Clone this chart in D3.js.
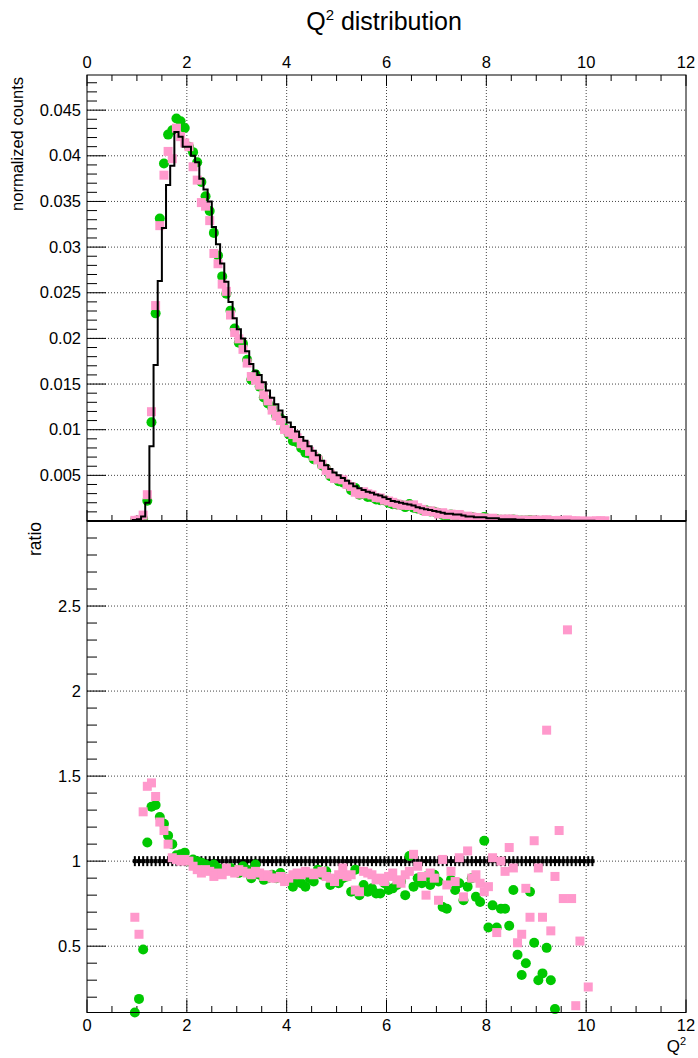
<!DOCTYPE html>
<html><head><meta charset="utf-8">
<script src="https://cdn.jsdelivr.net/npm/d3@7"></script>
<style>
body{margin:0;background:#fff}
svg{display:block}
text{font-family:"Liberation Sans",Arial,Helvetica,sans-serif;fill:#000}
</style>
</head><body>
<svg id="chart" width="698" height="1058"></svg>
<script>
// Binning: 144 bins of width 1/12 on [0,12]; arrays below start at bin 11.
const binWidth = 1 / 12;
const firstBin = 11;

// Reference histogram (normalized counts), bins 11..121
const histCounts = [
  0.0001, 0.0002, 0.0005, 0.0020, 0.0082, 0.0171, 0.0263, 0.0321, 0.0368, 0.0389,
  0.0426, 0.0421, 0.0410, 0.0410, 0.0400, 0.0393, 0.0375, 0.0363, 0.0350, 0.0322,
  0.0303, 0.0282, 0.0262, 0.0240, 0.0222, 0.0210, 0.0200, 0.0186, 0.0172, 0.0164,
  0.0160, 0.0152, 0.0143, 0.0135, 0.0128, 0.0121, 0.0114, 0.0108, 0.0103, 0.0098,
  0.0092, 0.0088, 0.0082, 0.0077, 0.0072, 0.0066, 0.0061, 0.0057, 0.0053, 0.0050,
  0.0047, 0.0044, 0.0041, 0.0038, 0.0036, 0.0034, 0.0032, 0.0031, 0.0029, 0.0028,
  0.0026, 0.0024, 0.0022, 0.0021, 0.0020, 0.0019, 0.0018, 0.0017, 0.0015, 0.0014,
  0.0013, 0.0012, 0.0011, 0.0010, 0.0009, 0.0008, 0.0008, 0.0007, 0.0007, 0.0006,
  0.0005, 0.0005, 0.0004, 0.0004, 0.0004, 0.0003, 0.0003, 0.0003, 0.0002, 0.0002,
  0.0002, 0.0002, 0.00015, 0.00015, 0.00012, 0.00012, 0.0001, 0.0001, 0.0001, 0.00008,
  0.00008, 0.00006, 0.00006, 0.00005, 0.00005, 0.00004, 0.00004, 0.00003, 0.00003, 0.00002,
  0.00002
];

// Ratio of the green sample to the reference, bins 11..121 (null = empty bin)
const greenRatio = [
  0.11, 0.19, 0.48, 1.11, 1.32, 1.33, 1.26, 1.22, 1.15, 1.10,
  1.035, 1.04, 1.05, 1.00, 1.01, 1.00, 0.99, 0.98, 0.97, 0.98,
  0.96, 0.95, 0.95, 0.96, 0.95, 0.93, 0.97, 0.95, 0.90, 0.98,
  0.92, 0.89, 0.90, 0.92, 0.90, 0.93, 0.89, 0.88, 0.85, 0.88,
  0.87, 0.85, 0.90, 0.88, 0.95, 0.92, 0.94, 0.86, 0.89, 0.87,
  0.90, 0.91, 0.82, 0.95, 0.80, 0.86, 0.82, 0.84, 0.81, 0.81,
  0.87, 0.83, 0.84, 0.86, 0.88, 0.80, 1.03, 0.85, 0.90, 0.87,
  0.91, 0.86, 0.92, 0.88, 0.73, 0.72, 0.89, 0.83, 0.87, 0.77,
  0.85, 0.90, 0.79, 0.76, 1.12, 0.61, 0.74, 0.61, 0.72, 0.72,
  0.62, 0.83, 0.45, 0.33, 0.40, 0.82, 0.52, 0.30, 0.34, 0.49,
  0.30, 0.13, null, null, null, null, null, null, null, null,
  null
];

// Ratio of the pink sample to the reference, bins 11..121 (null = empty bin)
const pinkRatio = [
  0.67, 0.57, 1.29, 1.44, 1.46, 1.38, 1.23, 1.18, 1.10, 1.02,
  1.01, 1.00, 1.01, 1.00, 0.97, 0.95, 0.93, 0.95, 0.94, 0.91,
  0.93, 0.92, 0.96, 0.94, 0.93, 0.95, 0.94, 0.93, 0.92, 0.94,
  0.93, 0.91, 0.92, 0.90, 0.90, 0.91, 0.88, 0.90, 0.92, 0.93,
  0.92, 0.94, 0.93, 0.92, 0.93, 0.94, 0.91, 0.90, 0.88, 0.92,
  0.96, 0.91, 0.92, 0.83, 0.82, 0.94, 0.93, 0.92, 0.89, 0.90,
  0.88, 0.91, 0.93, 0.89, 0.87, 0.92, 0.94, 1.04, 0.97, 0.91,
  0.80, 0.93, 0.90, 0.77, 1.01, 0.86, 0.94, 0.88, 1.02, 0.79,
  1.06, 0.90, 0.92, 0.87, 0.82, 0.85, 1.02, 0.58, 1.00, 0.94,
  1.08, 0.96, 0.52, 0.57, 0.84, 0.67, 1.12, 0.96, 0.67, 1.77,
  0.59, 0.91, 1.18, 0.78, 2.36, 0.78, 0.15, 0.53, null, 0.26,
  null
];

// Pink counts in bins 122..124, past the end of the reference histogram
const pinkTailCounts = [0.00003, 0.00002, 0.00002];

const xTicks = [0, 2, 4, 6, 8, 10, 12];
const countTicks = [0.005, 0.01, 0.015, 0.02, 0.025, 0.03, 0.035, 0.04, 0.045];
const countTickLabels = ["0.005", "0.01", "0.015", "0.02", "0.025", "0.03", "0.035", "0.04", "0.045"];
const ratioTicks = [0.5, 1, 1.5, 2, 2.5];
const ratioTickLabels = ["0.5", "1", "1.5", "2", "2.5"];

const GREEN = "#00c800";
const PINK = "#ff99cc";

const svg = d3.select("#chart");
const L = 87, R = 686, T = 75, M = 521, B = 1012.5;

const x = d3.scaleLinear().domain([0, 12]).range([L, R]);
const yC = d3.scaleLinear().domain([0, 0.04885]).range([M, T]);
const yR = d3.scaleLinear().domain([0.11, 3.0]).range([B, M]);

const center = i => (firstBin + i + 0.5) * binWidth;

// ---------- grids ----------
const grid = svg.append("g").attr("stroke", "#444").attr("stroke-width", 1)
  .attr("stroke-dasharray", "1,2").attr("fill", "none");
xTicks.filter(t => t > 0 && t < 12).forEach(t => {
  grid.append("line").attr("x1", x(t)).attr("x2", x(t)).attr("y1", T).attr("y2", M);
  grid.append("line").attr("x1", x(t)).attr("x2", x(t)).attr("y1", M).attr("y2", B);
});
countTicks.forEach(t => grid.append("line").attr("x1", L).attr("x2", R).attr("y1", yC(t)).attr("y2", yC(t)));
ratioTicks.forEach(t => grid.append("line").attr("x1", L).attr("x2", R).attr("y1", yR(t)).attr("y2", yR(t)));

// ---------- ticks ----------
const ticks = svg.append("g").attr("stroke", "#000").attr("stroke-width", 1);
const xMinor = d3.range(0, 12.001, 0.5);
xMinor.forEach(t => {
  const major = Math.abs(t / 2 - Math.round(t / 2)) < 1e-6;
  const lenTop = major ? 11 : 6, lenBot = major ? 13 : 6.5;
  ticks.append("line").attr("x1", x(t)).attr("x2", x(t)).attr("y1", T).attr("y2", T + lenTop);
  ticks.append("line").attr("x1", x(t)).attr("x2", x(t)).attr("y1", M).attr("y2", M - lenTop);
  ticks.append("line").attr("x1", x(t)).attr("x2", x(t)).attr("y1", B).attr("y2", B - lenBot);
});
d3.range(1, 49).forEach(n => {
  const v = n * 0.001;
  const len = n % 5 === 0 ? 19 : 10;
  ticks.append("line").attr("x1", L).attr("x2", L + len).attr("y1", yC(v)).attr("y2", yC(v));
});
d3.range(2, 30).forEach(n => {
  const v = n * 0.1;
  const len = n % 5 === 0 ? 19 : 10;
  ticks.append("line").attr("x1", L).attr("x2", L + len).attr("y1", yR(v)).attr("y2", yR(v));
});

// ---------- top panel: markers and histogram ----------
svg.append("defs").append("clipPath").attr("id", "topClip")
  .append("rect").attr("x", L).attr("y", T).attr("width", R - L).attr("height", M - T);
const topPanel = svg.append("g").attr("clip-path", "url(#topClip)");

const greenTop = histCounts.map((h, i) => ({ q: center(i), v: greenRatio[i] == null ? null : h * greenRatio[i] }))
  .filter(d => d.v != null);
const pinkTop = histCounts.map((h, i) => ({ q: center(i), v: pinkRatio[i] == null ? null : h * pinkRatio[i] }))
  .filter(d => d.v != null)
  .concat(pinkTailCounts.map((v, j) => ({ q: center(histCounts.length + j), v })));

topPanel.selectAll("circle.g").data(greenTop).join("circle")
  .attr("cx", d => x(d.q)).attr("cy", d => yC(d.v)).attr("r", 5).attr("fill", GREEN);
topPanel.selectAll("rect.p").data(pinkTop).join("rect")
  .attr("x", d => x(d.q) - 4.5).attr("y", d => yC(d.v) - 4.5)
  .attr("width", 9).attr("height", 9).attr("fill", PINK);

const edges = d3.range(0, 145).map(k => {
  const i = Math.min(k, 143) - firstBin;
  const v = i >= 0 && i < histCounts.length ? histCounts[i] : 0;
  return { q: k * binWidth, v };
});
topPanel.append("path").datum(edges)
  .attr("d", d3.line().x(d => x(d.q)).y(d => yC(d.v)).curve(d3.curveStepAfter))
  .attr("fill", "none").attr("stroke", "#000").attr("stroke-width", 2);

// ---------- bottom panel: ratios ----------
const refRatio = histCounts.map((h, i) => ({ q: center(i), v: h > 0 ? h / h : null }));
const cross = svg.append("g").attr("fill", "#000");
refRatio.forEach(d => {
  cross.append("rect").attr("x", x(d.q - binWidth / 2)).attr("y", yR(d.v) - 2)
    .attr("width", x(binWidth) - x(0)).attr("height", 4);
  cross.append("rect").attr("x", x(d.q) - 1).attr("y", yR(d.v) - 5).attr("width", 2).attr("height", 10);
});

const greenR = greenRatio.map((r, i) => ({ q: center(i), v: r })).filter(d => d.v != null);
const pinkR = pinkRatio.map((r, i) => ({ q: center(i), v: r })).filter(d => d.v != null);
svg.append("g").selectAll("circle").data(greenR).join("circle")
  .attr("cx", d => x(d.q)).attr("cy", d => yR(d.v)).attr("r", 5).attr("fill", GREEN);
svg.append("g").selectAll("rect").data(pinkR).join("rect")
  .attr("x", d => x(d.q) - 4.5).attr("y", d => yR(d.v) - 4.5)
  .attr("width", 9).attr("height", 9).attr("fill", PINK);

// ---------- frames ----------
const frame = svg.append("g").attr("fill", "none").attr("stroke", "#000");
frame.append("rect").attr("x", L).attr("y", T).attr("width", R - L).attr("height", M - T).attr("stroke-width", 1);
frame.append("rect").attr("x", L).attr("y", M).attr("width", R - L).attr("height", B - M).attr("stroke-width", 1);
frame.append("line").attr("x1", L).attr("x2", R).attr("y1", M).attr("y2", M).attr("stroke-width", 2);

// ---------- labels ----------
const lab = svg.append("g").attr("font-size", 16.5);
xTicks.forEach(t => {
  lab.append("text").attr("x", x(t)).attr("y", 68).attr("text-anchor", "middle").text(t);
  lab.append("text").attr("x", x(t)).attr("y", 1031).attr("text-anchor", "middle").text(t);
});
countTicks.forEach((t, i) => lab.append("text").attr("x", 81).attr("y", yC(t) + 5.5)
  .attr("text-anchor", "end").text(countTickLabels[i]));
ratioTicks.forEach((t, i) => lab.append("text").attr("x", 81).attr("y", yR(t) + 5.5)
  .attr("text-anchor", "end").text(ratioTickLabels[i]));

const title = svg.append("text").attr("x", 384).attr("y", 30).attr("text-anchor", "middle").attr("font-size", 25);
title.append("tspan").text("Q");
title.append("tspan").attr("dy", -10).attr("font-size", 15).text("2");
title.append("tspan").attr("dy", 10).text(" distribution");

svg.append("text").attr("transform", "translate(23,77) rotate(-90)").attr("text-anchor", "end")
  .attr("font-size", 16.5).text("normalized counts");
svg.append("text").attr("transform", "translate(41,522) rotate(-90)").attr("text-anchor", "end")
  .attr("font-size", 17.5).text("ratio");

const xt = svg.append("text").attr("x", 686).attr("y", 1052).attr("text-anchor", "end").attr("font-size", 17);
xt.append("tspan").text("Q");
xt.append("tspan").attr("dy", -7).attr("font-size", 11).text("2");
</script>
</body></html>
